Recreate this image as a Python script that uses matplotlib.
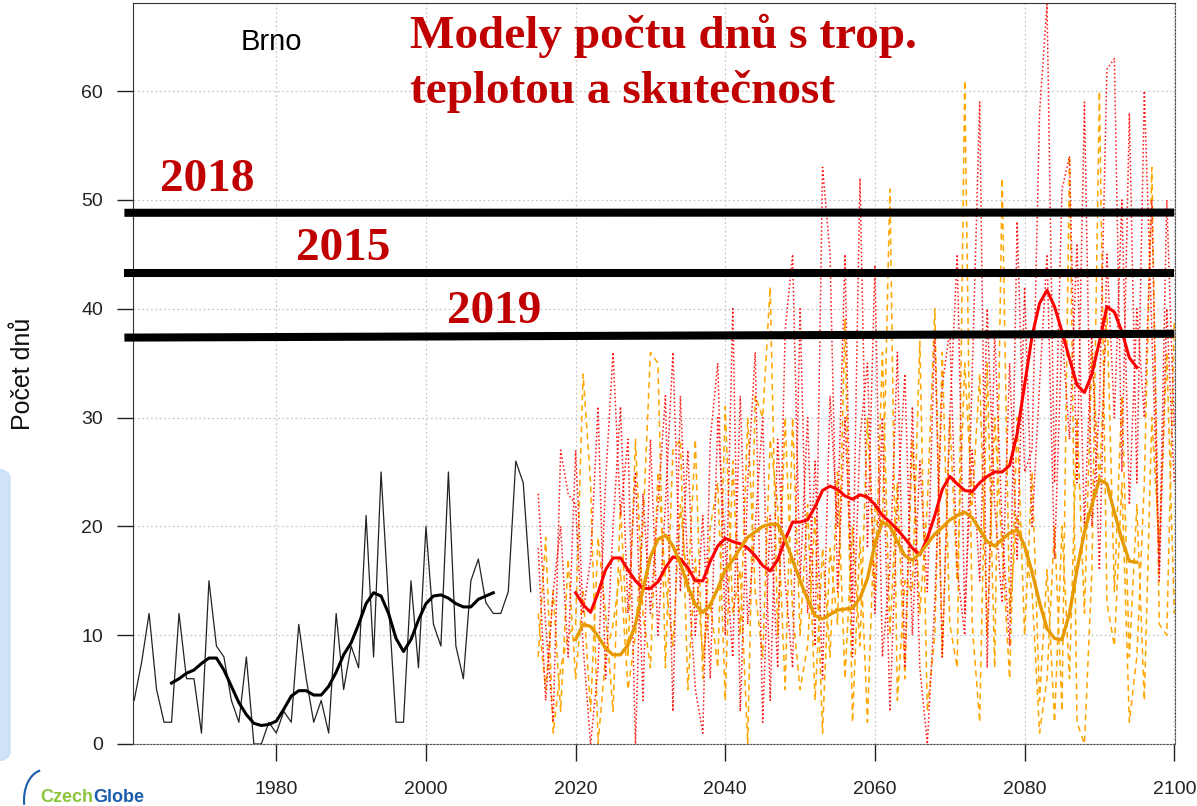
import matplotlib.pyplot as plt
import matplotlib.patches as mpatches
import numpy as np

# observed station data (Brno)
obs_years = np.arange(1961, 2015)
obs_days = [4, 7.5, 12, 5, 2, 2, 12, 6, 6, 1, 15, 9, 8, 4, 2, 8, 0, 0, 2, 1,
            3, 2, 11, 6, 2, 4, 1, 12, 5, 9, 7, 21, 8, 25, 13, 2, 2, 15, 7, 20,
            11, 9, 25, 9, 6, 15, 17, 13, 12, 12, 14, 26, 24, 14]
obs_smooth_years = np.arange(1966, 2010)
obs_smooth = [5.6, 6.0, 6.5, 6.8, 7.4, 7.9, 7.9, 6.8, 5.3, 3.8, 2.7, 1.9, 1.7, 1.8,
              2.1, 3.2, 4.4, 4.9, 4.9, 4.5, 4.5, 5.3, 6.6, 8.2, 9.3, 11.0, 12.9, 13.9,
              13.6, 12.0, 9.7, 8.5, 9.6, 11.4, 12.9, 13.6, 13.7, 13.4, 12.9, 12.6,
              12.6, 13.3, 13.6, 13.9]

# model projections, two runs per colour
mod_years = np.arange(2015, 2101)
red_days = [23, 11, 2, 27, 23, 22, 9, 0, 7, 24, 36, 21, 28, 0, 23, 12, 22, 32, 3, 32,
            16, 5, 1, 28, 35, 10, 40, 3, 24, 36, 2, 21, 7, 38, 45, 15, 30, 9, 53, 45,
            14, 30, 13, 52, 18, 44, 8, 16, 36, 7, 31, 7, 0, 13, 33, 38, 16, 10, 34, 59,
            7, 38, 20, 9, 48, 25, 27, 58, 68, 24, 51, 54, 24, 59, 20, 31, 62, 63, 25, 58,
            24, 60, 38, 16, 50, 29]
red_days_2 = [18, 4, 14, 20, 8, 27, 12, 17, 31, 6, 20, 31, 12, 25, 4, 28, 10, 22, 36, 14,
              27, 10, 21, 6, 30, 18, 8, 32, 11, 20, 30, 4, 28, 15, 7, 40, 12, 26, 6, 32,
              20, 45, 8, 28, 35, 12, 30, 3, 22, 34, 10, 26, 14, 38, 8, 30, 45, 12, 27, 15,
              40, 22, 13, 35, 17, 42, 20, 33, 45, 17, 38, 28, 46, 20, 38, 16, 45, 30, 50, 22,
              40, 30, 50, 15, 40, 24]
orange_days = [8, 19, 1, 7, 10, 11, 34, 24, 0, 8, 11, 16, 5, 10, 20, 36, 35, 7, 27, 28,
               5, 17, 8, 13, 7, 31, 12, 16, 0, 32, 30, 42, 10, 30, 12, 5, 9, 21, 1, 18,
               11, 39, 2, 19, 2, 22, 20, 51, 4, 15, 14, 37, 3, 10, 36, 11, 7, 61, 11, 2,
               35, 7, 52, 12, 21, 18, 14, 1, 6, 20, 3, 54, 2, 0, 16, 60, 13, 9, 24, 2,
               8, 24, 53, 11, 10, 39]
orange_days_2 = [12, 5, 14, 3, 17, 6, 14, 3, 19, 12, 3, 22, 8, 28, 12, 7, 25, 15, 9, 22,
                 14, 28, 6, 20, 24, 4, 26, 10, 30, 14, 8, 28, 22, 5, 30, 10, 22, 4, 18, 8,
                 25, 6, 20, 9, 30, 14, 36, 10, 24, 6, 28, 12, 22, 40, 8, 30, 15, 35, 22, 34,
                 10, 30, 18, 6, 30, 10, 25, 4, 16, 2, 20, 6, 30, 12, 36, 24, 40, 14, 32, 8,
                 22, 4, 30, 18, 36, 12]
smooth_years = np.arange(2020, 2096)
red_smooth = [13.9, 12.8, 12.1, 13.9, 16.0, 17.1, 17.1, 16.0, 15.0, 14.3, 14.3, 14.9,
              16.2, 17.2, 17.0, 16.2, 15.0, 15.0, 16.8, 18.2, 18.9, 18.6, 18.4, 18.0,
              17.3, 16.4, 15.9, 16.9, 18.8, 20.4, 20.4, 20.6, 21.8, 23.3, 23.7, 23.4,
              22.8, 22.5, 22.9, 22.7, 22.0, 21.0, 20.4, 19.7, 18.9, 18.0, 17.4, 18.9,
              21.0, 23.4, 24.6, 23.9, 23.3, 23.2, 24.0, 24.6, 25.0, 25.0, 25.6, 28.5,
              33.0, 37.5, 40.5, 41.7, 40.2, 37.9, 35.4, 33.0, 32.3, 34.0, 37.0, 40.2,
              39.7, 37.9, 35.5, 34.6]
orange_smooth = [9.6, 11.0, 10.8, 9.9, 8.8, 8.2, 8.2, 9.1, 11.0, 14.2, 17.2, 18.8,
                 19.2, 18.2, 16.6, 14.5, 12.8, 12.1, 12.8, 14.3, 16.0, 16.9, 18.0, 19.0,
                 19.5, 20.0, 20.2, 20.2, 18.8, 16.9, 15.0, 13.3, 11.8, 11.5, 11.9, 12.3,
                 12.4, 12.5, 13.4, 15.2, 18.4, 20.4, 20.0, 18.6, 17.3, 16.9, 17.5, 18.4,
                 19.3, 19.9, 20.6, 21.0, 21.3, 20.8, 19.7, 18.6, 18.2, 18.8, 19.4, 19.7,
                 18.2, 15.8, 13.0, 10.6, 9.7, 9.6, 12.0, 16.0, 19.5, 22.0, 24.3, 23.9,
                 21.3, 18.8, 16.8, 16.7]

# reference years drawn as thick bars
ref_labels = ["2018", "2015", "2019"]
ref_left = [48.82, 43.28, 37.35]
ref_right = [48.84, 43.28, 37.7]

W, H = 1197, 806
fig = plt.figure(figsize=(W / 100, H / 100), dpi=100)
ax = fig.add_axes([133 / W, 1 - 744 / H, (1175 - 133) / W, (744 - 3) / H])

for series in [orange_days, orange_days_2]:
    ax.plot(mod_years, series, color="#FFA500", lw=1.1, ls=(0, (4, 3)))
for series in [red_days, red_days_2]:
    ax.plot(mod_years, series, color="#FF1010", lw=1.1, ls=(0, (1, 1.6)))
ax.plot(obs_years, obs_days, color="#222222", lw=0.9)
ax.plot(obs_smooth_years, obs_smooth, color="black", lw=2.2)
ax.plot(smooth_years, red_smooth, color="#FF0000", lw=2.2)
ax.plot(smooth_years, orange_smooth, color="#E69A00", lw=2.4)

for yl, yr in zip(ref_left, ref_right):
    ax.plot([1959.7, 2100.0], [yl, yr], color="black", lw=5.8,
            solid_capstyle="butt", clip_on=False, zorder=5)

ax.set_xlim(1960.85, 2100.1)
ax.set_ylim(0, 68.1)
ax.set_xticks([1980, 2000, 2020, 2040, 2060, 2080, 2100])
ax.set_yticks([0, 10, 20, 30, 40, 50, 60])
ax.grid(True, color="#C8C8C8", ls=(0, (1.5, 2)), lw=0.9)
ax.set_axisbelow(True)
ax.tick_params(axis="x", length=12, width=1, pad=15, labelsize=14, colors="#222222")
ax.tick_params(axis="y", length=11.5, width=1, pad=10, labelsize=14, colors="#222222")
for lab in ax.get_xticklabels() + ax.get_yticklabels():
    lab.set_family("Liberation Sans")
ax.spines["left"].set_color("#333333")
ax.spines["top"].set_color("#333333")
for s in ["bottom", "right"]:
    ax.spines[s].set_color("#555555")
    ax.spines[s].set_linestyle((0, (1.5, 1.5)))

fig.text(23 / W, 1 - 374 / H, "Počet dnů", rotation=90, ha="center", va="center",
         fontsize=18, family="Liberation Sans", color="#111111")
fig.text(271 / W, 1 - 42 / H, "Brno", ha="center", va="center",
         fontsize=21, family="Liberation Sans", color="black")

red_text = dict(fontsize=34, family="Liberation Serif", weight="bold", color="#C00000")
fig.text(410 / W, 1 - 48 / H, "Modely počtu dnů s trop.", ha="left", va="baseline", **red_text)
fig.text(410 / W, 1 - 103 / H, "teplotou a skutečnost", ha="left", va="baseline", **red_text)
label_pos = [(160, 191), (296, 260), (447, 323)]
for lab, (px, py) in zip(ref_labels, label_pos):
    fig.text(px / W, 1 - py / H, lab, ha="left", va="baseline", zorder=6, **red_text)

# slide decoration: logo and left glow
fig.patches.append(mpatches.FancyBboxPatch((-8 / W, 1 - 760 / H), 18 / W, 290 / H,
                                           boxstyle="round,pad=0,rounding_size=0.01",
                                           transform=fig.transFigure, color="#C4DDF4",
                                           alpha=0.8))
fig.patches.append(mpatches.Arc((44 / W, 1 - 800 / H), 40 / W, 60 / H, theta1=95, theta2=200,
                                transform=fig.transFigure, color="#1A5DAB", lw=1.5))
czech = fig.text(40 / W, 1 - 797 / H, "Czech", ha="left", va="center", fontsize=13,
                 family="Liberation Sans", weight="bold", color="#8CC43C")
renderer = fig.canvas.get_renderer()
x_end = czech.get_window_extent(renderer).x1
fig.text(x_end / W, 1 - 797 / H, "Globe", ha="left", va="center", fontsize=13,
         family="Liberation Sans", weight="bold", color="#1A5DAB")

fig.savefig("out.png", dpi=100)
